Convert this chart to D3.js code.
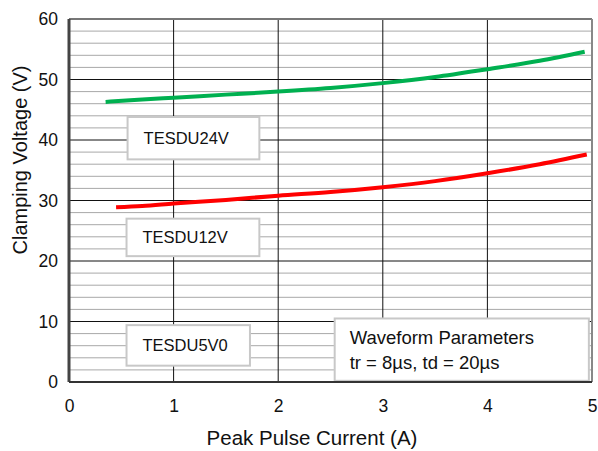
<!DOCTYPE html>
<html>
<head>
<meta charset="utf-8">
<script src="https://cdn.jsdelivr.net/npm/d3@7"></script>
<style>
  body { margin: 0; background: #fff; }
  text { font-family: "Liberation Sans", Arial, sans-serif; fill: #111; }
</style>
</head>
<body>
<svg id="chart" width="598" height="451"></svg>
<script>
// data
var xTicks = [0, 1, 2, 3, 4, 5];
var yTicks = [0, 10, 20, 30, 40, 50, 60];
var current24 = [0.35, 0.7, 1, 1.5, 2, 2.5, 3, 3.5, 4, 4.5, 4.93];
var volt24    = [46.3, 46.7, 47.0, 47.5, 48.0, 48.6, 49.4, 50.4, 51.7, 53.1, 54.6];
var current12 = [0.45, 0.7, 1, 1.5, 2, 2.5, 3, 3.5, 4, 4.5, 4.95];
var volt12    = [28.9, 29.1, 29.5, 30.1, 30.8, 31.4, 32.2, 33.2, 34.5, 36.0, 37.6];
var deviceLabels = ["TESDU24V", "TESDU12V", "TESDU5V0"];
var noteLines = ["Waveform Parameters", "tr = 8\u00b5s, td = 20\u00b5s"];

var svg = d3.select("#chart");
var margin = {left: 69, right: 6, top: 19, bottom: 69};
var W = 598 - margin.left - margin.right;
var H = 451 - margin.top - margin.bottom;

var x = d3.scaleLinear().domain([0, 5]).range([0, W]);
var y = d3.scaleLinear().domain([0, 60]).range([H, 0]);

var g = svg.append("g")
	.attr("transform", "translate(" + margin.left + "," + margin.top + ")");

// minor horizontal grid every 2 V
g.selectAll("line.minor")
	.data(d3.range(2, 60, 2).filter(function(v) { return v % 10 != 0; }))
	.enter().append("line")
	.attr("class", "minor")
	.attr("x1", 0).attr("x2", W)
	.attr("y1", function(d) { return y(d); })
	.attr("y2", function(d) { return y(d); })
	.attr("stroke", "#a8a8a8").attr("stroke-width", 1);

// major grid
g.selectAll("line.hmajor")
	.data([10, 20, 30, 40, 50])
	.enter().append("line")
	.attr("x1", 0).attr("x2", W)
	.attr("y1", function(d) { return y(d); })
	.attr("y2", function(d) { return y(d); })
	.attr("stroke", "#111").attr("stroke-width", 1);

g.selectAll("line.vmajor")
	.data([1, 2, 3, 4])
	.enter().append("line")
	.attr("x1", function(d) { return x(d); })
	.attr("x2", function(d) { return x(d); })
	.attr("y1", 0).attr("y2", H)
	.attr("stroke", "#111").attr("stroke-width", 1);

// frame
g.append("line").attr("x1", 0).attr("x2", W).attr("y1", 0).attr("y2", 0)
	.attr("stroke", "#777").attr("stroke-width", 2);
g.append("line").attr("x1", W).attr("x2", W).attr("y1", 0).attr("y2", H)
	.attr("stroke", "#888").attr("stroke-width", 2);

// curves
var line = d3.line()
	.x(function(d) { return x(d[0]); })
	.y(function(d) { return y(d[1]); })
	.curve(d3.curveMonotoneX);

g.append("path")
	.datum(d3.zip(current24, volt24))
	.attr("d", line)
	.attr("fill", "none").attr("stroke", "#00b050").attr("stroke-width", 4);

g.append("path")
	.datum(d3.zip(current12, volt12))
	.attr("d", line)
	.attr("fill", "none").attr("stroke", "#ff0000").attr("stroke-width", 4);

// label boxes (positions in data units)
var boxes = [
	{x0: 0.56, x1: 1.82, y0: 36.8, y1: 43.8, text: deviceLabels[0]},
	{x0: 0.55, x1: 1.82, y0: 20.8, y1: 27.0, text: deviceLabels[1]},
	{x0: 0.55, x1: 1.73, y0: 2.7, y1: 9.4, text: deviceLabels[2]}
];

boxes.forEach(function(b) {
	g.append("rect")
		.attr("x", x(b.x0)).attr("y", y(b.y1))
		.attr("width", x(b.x1) - x(b.x0)).attr("height", y(b.y0) - y(b.y1))
		.attr("fill", "#fff").attr("stroke", "#c8c8c8").attr("stroke-width", 2);
	g.append("text")
		.attr("x", x(b.x0) + 16)
		.attr("y", (y(b.y0) + y(b.y1)) / 2)
		.attr("dy", "0.36em")
		.style("font-size", "16.5px")
		.text(b.text);
});

var nb = {x0: 2.54, x1: 4.97, y0: 0.2, y1: 10.5};
g.append("rect")
	.attr("x", x(nb.x0)).attr("y", y(nb.y1))
	.attr("width", x(nb.x1) - x(nb.x0)).attr("height", y(nb.y0) - y(nb.y1))
	.attr("fill", "#fff").attr("stroke", "#c8c8c8").attr("stroke-width", 2);
g.selectAll("text.note")
	.data(noteLines)
	.enter().append("text")
	.attr("class", "note")
	.attr("x", x(nb.x0) + 15)
	.attr("y", function(d, i) { return y(nb.y1) + 26 + i * 25; })
	.style("font-size", "18.5px")
	.text(function(d) { return d; });

// axes
g.append("line").attr("x1", 0).attr("x2", 0).attr("y1", 0).attr("y2", H)
	.attr("stroke", "#444").attr("stroke-width", 3);
g.append("line").attr("x1", 0).attr("x2", W).attr("y1", H).attr("y2", H)
	.attr("stroke", "#333").attr("stroke-width", 2);

var xAxis = g.append("g")
	.attr("transform", "translate(0," + H + ")")
	.call(d3.axisBottom(x).tickValues(xTicks).tickSize(0).tickPadding(18).tickFormat(d3.format("d")));
var yAxis = g.append("g")
	.call(d3.axisLeft(y).tickValues(yTicks).tickSize(0).tickPadding(11).tickFormat(d3.format("d")));
[xAxis, yAxis].forEach(function(a) {
	a.select(".domain").remove();
	a.selectAll("text").style("font-size", "17.5px").style("font-family", "Liberation Sans, Arial, sans-serif").attr("fill", "#111");
});

svg.append("text")
	.attr("x", 312)
	.attr("y", 445)
	.attr("text-anchor", "middle")
	.style("font-size", "20.5px")
	.text("Peak Pulse Current (A)");

svg.append("text")
	.attr("transform", "translate(27,160) rotate(-90)")
	.attr("text-anchor", "middle")
	.style("font-size", "20px")
	.text("Clamping Voltage (V)");
</script>
</body>
</html>
